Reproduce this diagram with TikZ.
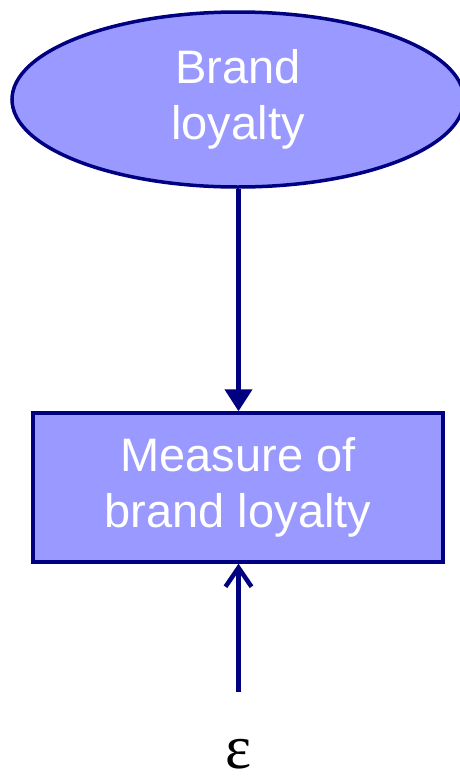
\documentclass[tikz,border=0pt]{standalone}
\usepackage{fontspec}
\setmainfont{Liberation Sans}
\newfontfamily\greekserif{Liberation Serif}
\usetikzlibrary{arrows.meta,shapes.geometric}
\definecolor{navyline}{HTML}{000080}
\definecolor{lavfill}{HTML}{9999FF}
\tikzset{
  x=1pt, y=-1pt,
  concept/.style={ellipse, draw=navyline, line width=3.5pt, fill=lavfill,
    minimum width=452pt, minimum height=175pt, inner sep=0pt},
  measure/.style={rectangle, draw=navyline, line width=3.5pt, fill=lavfill,
    minimum width=410pt, minimum height=149pt, inner sep=0pt},
  whitetext/.style={text=white, align=center, font=\fontsize{47}{56}\selectfont},
  link/.style={draw=navyline, line width=4.5pt}
}
\begin{document}
\begin{tikzpicture}
\useasboundingbox (0,0) rectangle (459,777);
\node[concept, whitetext] (lv) at (238,99.5) {Brand\\loyalty};
\node[measure, whitetext] (ms) at (238,487.5) {Measure of\\brand loyalty};
\coordinate (etop) at (238.5,692);
\node[inner sep=0pt, font=\greekserif\fontsize{62}{66}\selectfont] (eps) at (239,754) {ε};
\draw[link, -{Triangle[width=27pt,length=22pt]}] (lv.south -| 238.5,0) -- (ms.north -| 238.5,0);
\draw[link, -{Straight Barb[width=26pt,length=19pt,line width=4.5pt]}] (etop) -- (ms.south -| etop);
\end{tikzpicture}
\end{document}
